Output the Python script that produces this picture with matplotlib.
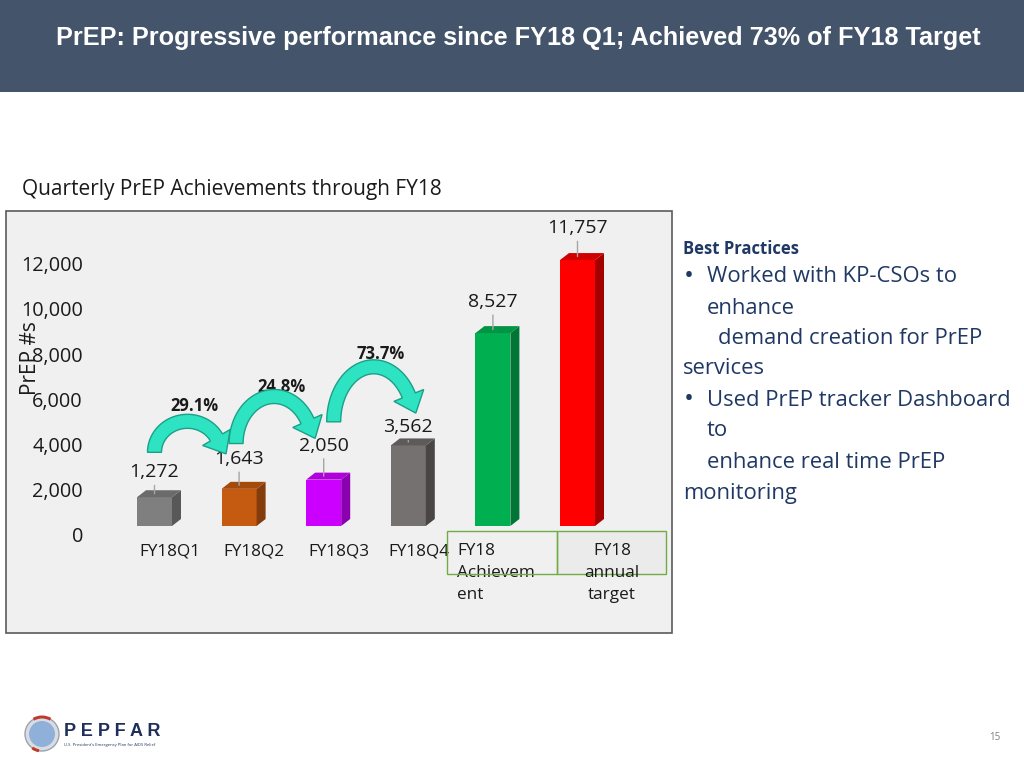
import numpy as np
import matplotlib.pyplot as plt
from matplotlib.patches import Rectangle, Polygon, Circle, Wedge
from matplotlib.transforms import ScaledTranslation

plt.rcParams['font.family'] = ['Open Sans', 'DejaVu Sans']

# data
categories = ['FY18Q1', 'FY18Q2', 'FY18Q3', 'FY18Q4',
              'FY18\nAchievem\nent', 'FY18\nannual\ntarget']
values = [1272, 1643, 2050, 3562, 8527, 11757]
growth_labels = ['29.1%', '24.8%', '73.7%']
yticks = [0, 2000, 4000, 6000, 8000, 10000, 12000]

front_colors = ['#7f7f7f', '#c55a11', '#cc00ff', '#767171', '#00b050', '#ff0000']
top_colors = ['#6b6b6b', '#a34a0d', '#b000dc', '#5f5a5a', '#009444', '#d00000']
side_colors = ['#585858', '#843c0c', '#8a00ae', '#4a4545', '#007535', '#a50000']

W, H = 1024, 768
fig = plt.figure(figsize=(W / 100, H / 100), dpi=100)
fig.patch.set_facecolor('white')


def fx(px):
    return px / W


def fy(py):
    return 1 - py / H


# header band
fig.patches.append(Rectangle((0, fy(92)), 1, 92 / H, transform=fig.transFigure,
                             facecolor='#44546a', edgecolor='none', zorder=-10))
fig.text(fx(518), fy(38), 'PrEP: Progressive performance since FY18 Q1; Achieved 73% of FY18 Target',
         color='white', fontsize=18.2, fontweight='bold', family='Liberation Sans',
         ha='center', va='center')

# chart frame
fig.patches.append(Rectangle((fx(6), fy(633)), fx(666), (633 - 211) / H, transform=fig.transFigure,
                             facecolor='#f0f0f0', edgecolor='#5a5a5a', lw=1.2, zorder=-5))
fig.text(fx(22), fy(189), 'Quarterly PrEP Achievements through FY18', fontsize=15,
         color='#1a1a1a', ha='left', va='center')

# axes placed so bar spacing / scale match the slide
step = 84.6
x0 = 154.5
scale = 0.02262
xmin, xmax = -0.77, 5.6
ymax = 13000
left = x0 + xmin * step
right = x0 + xmax * step
ax = fig.add_axes([fx(left), fy(526), (right - left) / W, ymax * scale / H])
ax.set_xlim(xmin, xmax)
ax.set_ylim(0, ymax)
ax.patch.set_visible(False)
for s in ax.spines.values():
    s.set_visible(False)

ax.set_yticks(yticks)
ax.set_yticklabels([f'{t:,}' for t in yticks])
ax.tick_params(axis='y', length=0, pad=4.6, labelsize=14.3, labelcolor='#1a1a1a')
ax.set_xticks([])
shift_y = ScaledTranslation(0, -9 / 100, fig.dpi_scale_trans)
for tick in ax.yaxis.get_major_ticks():
    tick.label1.set_transform(tick.label1.get_transform() + shift_y)

fig.text(fx(31), fy(358), 'PrEP #s', rotation=90, fontsize=15, color='#1a1a1a',
         ha='center', va='center')

# pseudo 3D bars
xpos = np.arange(len(values))
bw = 35 / step
dx = 9 / step
dy = 7 / scale
label_lift = [15.5, 19, 22, 10.5, 20, 20.5]
ax.bar(xpos, values, width=bw, color=front_colors, zorder=3)
for x, v, tc, sc, lift in zip(xpos, values, top_colors, side_colors, label_lift):
    xl, xr = x - bw / 2, x + bw / 2
    ax.add_patch(Polygon([(xr, 0), (xr + dx, dy), (xr + dx, v + dy), (xr, v)],
                         closed=True, facecolor=sc, edgecolor='none', zorder=3))
    ax.add_patch(Polygon([(xl, v), (xl + dx, v + dy), (xr + dx, v + dy), (xr, v)],
                         closed=True, facecolor=tc, edgecolor='none', zorder=3))
    ax.annotate(f'{v:,}', xy=(x, v + dy / 2), xytext=(0, lift), textcoords='offset points',
                ha='center', va='center', fontsize=14, color='#1a1a1a', zorder=4,
                arrowprops=dict(arrowstyle='-', color='#a6a6a6', lw=1, shrinkA=1, shrinkB=0))

# category labels (slide shows them shifted right of the bars)
xt = ax.get_xaxis_transform()
cat_shift = [15, 15, 15, 11, -36, 34.5]
cat_ha = ['center', 'center', 'center', 'center', 'left', 'center']
for x, lab, sh, ha in zip(xpos, categories, cat_shift, cat_ha):
    ax.text(x, 0, lab, transform=xt + ScaledTranslation(sh / 100, -17 / 100, fig.dpi_scale_trans),
            ha=ha, va='top', fontsize=12.3, color='#1a1a1a', linespacing=1.5,
            multialignment=ha, zorder=6)

fig.patches.append(Rectangle((fx(447), fy(574)), fx(110), 43 / H, transform=fig.transFigure,
                             facecolor='none', edgecolor='#70ad47', lw=1, zorder=2))
fig.patches.append(Rectangle((fx(557), fy(574)), fx(109), 43 / H, transform=fig.transFigure,
                             facecolor='#ebebeb', edgecolor='#70ad47', lw=1, zorder=-4))

# curved growth arrows between quarters (built in pixels, placed by the data)
arrow_rx = [33, 38, 40]
arrow_ry = [31, 47, 55]
arrow_dx = [0, -3, 10]
label_gap = [8, 3, 6]
band = 14
head_w, head_len = 32, 19
th = np.linspace(np.pi, 0.5, 60)
to_data = ax.transData.inverted()
for i, lab in enumerate(growth_labels):
    base = (values[i] + values[i + 1]) / 2 + 1800
    tx, ty = ax.transData.transform((i, base))
    tx += arrow_dx[i]
    rx, ry = arrow_rx[i], arrow_ry[i]
    cx = tx + rx
    px = cx + rx * np.cos(th)
    py = ty + ry * np.sin(th)
    nx, ny = np.cos(th) / rx, np.sin(th) / ry
    nn = np.hypot(nx, ny)
    nx, ny = nx / nn, ny / nn
    outer = np.column_stack([px + band / 2 * nx, py + band / 2 * ny])
    inner = np.column_stack([px - band / 2 * nx, py - band / 2 * ny])
    te = th[-1]
    tvec = np.array([rx * np.sin(te), -ry * np.cos(te)])
    tvec /= np.hypot(*tvec)
    nend = np.array([nx[-1], ny[-1]])
    pend = np.array([px[-1], py[-1]])
    head = np.array([pend + head_w / 2 * nend, pend + head_len * tvec, pend - head_w / 2 * nend])
    pts = np.vstack([outer, head, inner[::-1]])
    ax.add_patch(Polygon(to_data.transform(pts), closed=True, facecolor='#2de3c1',
                         edgecolor='#1c9f88', lw=1, zorder=5))
    lx, ly = to_data.transform((cx + 7, ty + ry + band / 2 + label_gap[i]))
    ax.text(lx, ly, lab, ha='center', va='center', fontsize=12, fontweight='bold',
            color='#1a1a1a', zorder=4)

# right-hand notes
navy = '#1f3864'
fig.text(fx(683), fy(249), 'Best Practices', fontsize=12, fontweight='bold', color=navy,
         ha='left', va='center')
notes = [
    (707, 277, 'Worked with KP-CSOs to'),
    (707, 308, 'enhance'),
    (718, 339, 'demand creation for PrEP'),
    (683, 369, 'services'),
    (707, 400, 'Used PrEP tracker Dashboard'),
    (707, 431, 'to'),
    (707, 462, 'enhance real time PrEP'),
    (683, 493, 'monitoring'),
]
for px_, py_, t in notes:
    fig.text(fx(px_), fy(py_), t, fontsize=15.8, color=navy, ha='left', va='center')
for py_ in (277, 400):
    fig.text(fx(684), fy(py_), '•', fontsize=19, color=navy, ha='left', va='center')

# footer: logo and page number
logo = fig.add_axes([fx(20), fy(756), fx(140), 46 / H])
logo.set_xlim(0, 140)
logo.set_ylim(0, 46)
logo.set_aspect('equal')
logo.axis('off')
logo.add_patch(Circle((22, 22), 17, facecolor='#d9dde3', edgecolor='#9aa3ad', lw=1))
logo.add_patch(Circle((22, 22), 13, facecolor='#8fb0d8', edgecolor='none'))
logo.add_patch(Wedge((22, 22), 18.5, 60, 120, width=3, facecolor='#c0392b', edgecolor='none'))
logo.add_patch(Wedge((22, 22), 18.5, 235, 260, width=3, facecolor='#c0392b', edgecolor='none'))
logo.text(44, 25, 'P E P F A R', fontsize=13, fontweight='bold', color='#1f2f5c',
          family='Liberation Sans', ha='left', va='center')
logo.text(44, 11, "U.S. President's Emergency Plan for AIDS Relief", fontsize=3,
          color='#1f2f5c', ha='left', va='center')
fig.text(fx(995), fy(738), '15', fontsize=7, color='#7f7f7f', ha='center', va='center')

fig.savefig('out.png', dpi=100)
